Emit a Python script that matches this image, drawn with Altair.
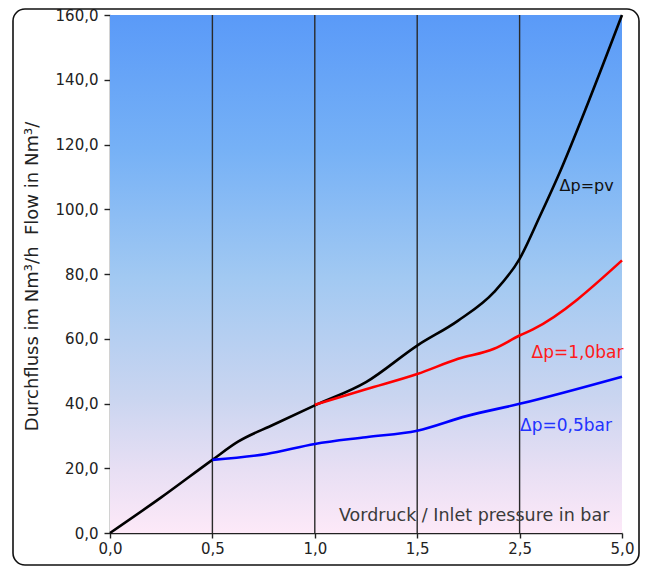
import altair as alt
import pandas as pd

# ---- axis ticks / labels ----
x_ticks = [0, 1, 2, 3, 4, 5]
x_tick_labels = ["0,0", "0,5", "1,0", "1,5", "2,5", "5,0"]
y_ticks = [0, 20, 40, 60, 80, 100, 120, 140, 160]
grid_at = [1, 2, 3, 4]

# ---- series (x = position index on the category-like axis) ----
pv_x = [0, 0.5, 1.0, 1.25, 1.6, 2.0, 2.5, 3.0, 3.4, 3.75, 4.0, 4.2, 4.4, 4.67, 5.0]
pv_y = [0, 11.0, 22.6, 28.2, 33.5, 39.4, 46.6, 57.9, 65.6, 74.4, 84.7, 98.0, 112.0, 133.0, 160.0]

bar10_x = [2.0, 2.5, 3.0, 3.4, 3.75, 4.0, 4.13, 5.0]
bar10_y = [39.6, 44.4, 49.1, 53.8, 56.9, 61.0, 62.9, 84.2]

bar05_x = [1.0, 1.53, 2.0, 2.5, 3.0, 3.48, 4.0, 5.0]
bar05_y = [22.6, 24.4, 27.5, 29.6, 31.6, 36.1, 39.9, 48.3]

series_names = ["Δp=pv", "Δp=1,0bar", "Δp=0,5bar"]
series_colors = ["#000000", "#ff0000", "#0000ff"]

label_text = ["Δp=pv", "Δp=1,0bar", "Δp=0,5bar"]
label_x = [4.39, 4.117, 4.004]
label_y = [105.5, 54.0, 31.6]
label_color = ["#111111", "#ff1a1a", "#2233ff"]
label_size = [16, 17, 17]

x_title = "Vordruck / Inlet pressure in bar"
y_title = "Durchfluss im Nm³/h\u00a0\u00a0Flow in Nm³/"

rows = []
for name, xs, ys in zip(series_names, [pv_x, bar10_x, bar05_x], [pv_y, bar10_y, bar05_y]):
    for a, b in zip(xs, ys):
        rows.append({"series": name, "x": a, "y": b})
df = pd.DataFrame(rows)

labels_df = pd.DataFrame({"t": label_text, "x": label_x, "y": label_y,
                          "c": label_color, "s": label_size})

W, H = 512, 518
FONT = "DejaVu Sans"
xscale = alt.Scale(domain=[0, 5], nice=False, zero=False)
yscale = alt.Scale(domain=[0, 160], nice=False)

label_expr_x = "[" + ",".join("'%s'" % s for s in x_tick_labels) + "][datum.value]"

x_axis = alt.Axis(values=x_ticks, labelExpr=label_expr_x, title=None,
                  grid=False, domainColor="#222", domainWidth=1.4,
                  tickColor="#222", tickWidth=1.4, tickSize=5,
                  labelFont=FONT, labelFontSize=15, labelColor="#222",
                  labelPadding=3, labelFlush=False, labelOverlap=False)
y_axis = alt.Axis(values=y_ticks,
                  labelExpr="replace(format(datum.value, '.1f'), '.', ',')",
                  title=y_title, grid=False, domainColor="#222", domainWidth=1.4,
                  tickColor="#222", tickWidth=1.4, tickSize=6,
                  labelFont=FONT, labelFontSize=15, labelColor="#222",
                  labelPadding=6, labelFlush=False, labelOverlap=False,
                  titleFont=FONT, titleFontSize=18,
                  titleFontWeight="normal", titleColor="#222",
                  titleAngle=270, titleX=-78, titleY=261,
                  titleAlign="center", titleBaseline="middle")

bg = alt.Chart(pd.DataFrame({"a": [0]})).mark_rect(
    color=alt.Gradient(
        gradient="linear", x1=0, x2=0, y1=0, y2=1,
        stops=[
            alt.GradientStop(color="#5a9af8", offset=0),
            alt.GradientStop(color="#76b1f6", offset=0.26),
            alt.GradientStop(color="#a2c9f2", offset=0.51),
            alt.GradientStop(color="#cad5f0", offset=0.74),
            alt.GradientStop(color="#e8dff4", offset=0.88),
            alt.GradientStop(color="#fde9f8", offset=1),
        ],
    )
).encode(
    x=alt.XDatum(0, scale=xscale, axis=x_axis),
    x2=alt.X2Datum(5),
    y=alt.YDatum(160, scale=yscale, axis=y_axis),
    y2=alt.Y2Datum(0),
)

grid = alt.Chart(pd.DataFrame({"g": grid_at})).mark_rule(
    color="#2a2a2a", strokeWidth=1.4
).encode(x=alt.X("g:Q", scale=xscale, axis=x_axis))

lines = alt.Chart(df).mark_line(strokeWidth=2.6, interpolate="monotone").encode(
    x=alt.X("x:Q", scale=xscale, axis=x_axis),
    y=alt.Y("y:Q", scale=yscale, axis=y_axis),
    color=alt.Color("series:N", scale=alt.Scale(domain=series_names, range=series_colors),
                    legend=None),
)

labels = alt.Chart(labels_df).mark_text(
    align="left", baseline="alphabetic", font=FONT
).encode(
    x=alt.X("x:Q", scale=xscale, axis=x_axis),
    y=alt.Y("y:Q", scale=yscale, axis=y_axis),
    text="t:N",
    color=alt.Color("c:N", scale=None, legend=None),
    size=alt.Size("s:Q", scale=None, legend=None),
)

xt = alt.Chart(pd.DataFrame({"t": [x_title]})).mark_text(
    align="center", baseline="alphabetic", font=FONT, fontSize=17.5, color="#3a3a3a"
).encode(
    x=alt.XDatum(3.556, scale=xscale, axis=x_axis),
    y=alt.YDatum(3.8, scale=yscale, axis=y_axis),
    text="t:N",
)

border = alt.Chart(pd.DataFrame({"a": [0]})).mark_rect(
    filled=False, color="#111", strokeWidth=1.6, cornerRadius=12
).encode(
    x=alt.value(-97), x2=alt.value(529), y=alt.value(-6), y2=alt.value(550)
)

chart = alt.layer(bg, grid, lines, labels, xt, border).properties(
    width=W, height=H,
    autosize=alt.AutoSizeParams(type="none"),
    padding={"left": 102, "top": 7, "right": 18, "bottom": 33},
    background="white",
).configure_view(strokeWidth=0)

chart.save("out.html", embed_options={"renderer": "svg", "actions": False})
